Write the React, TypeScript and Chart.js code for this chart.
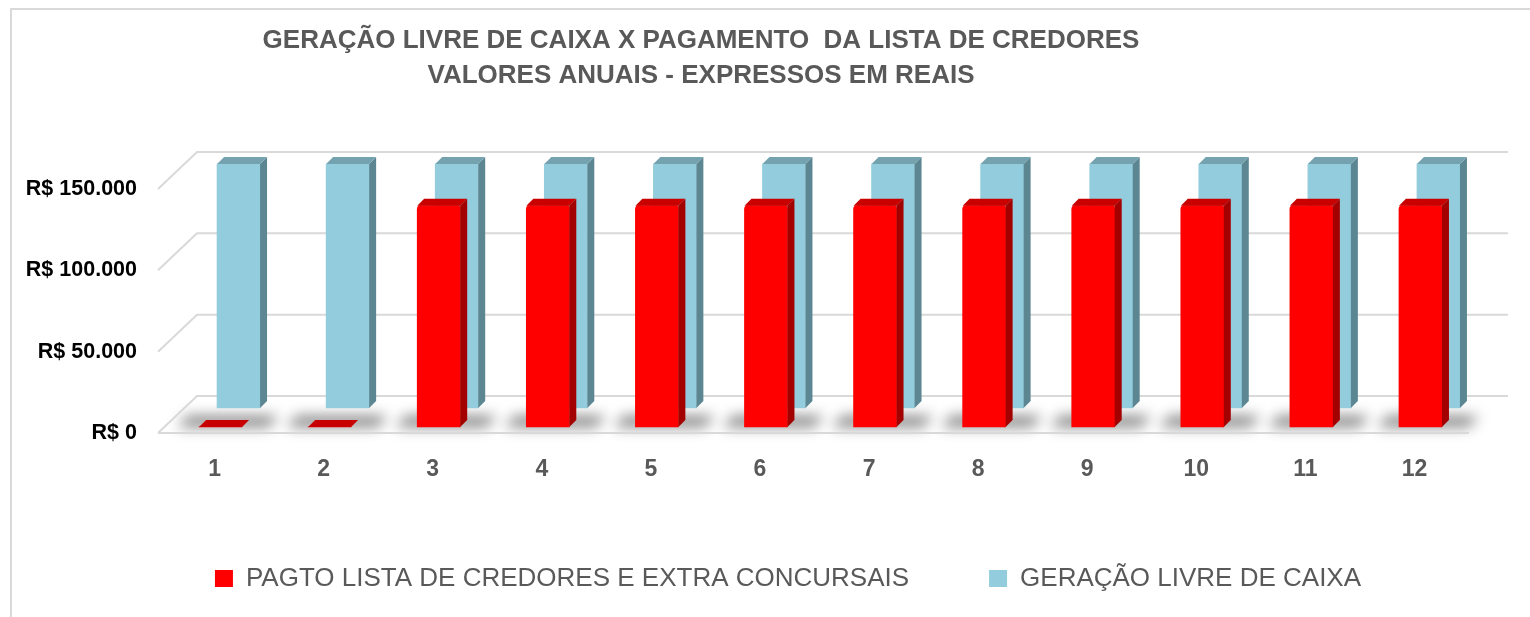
import React, { useEffect, useRef } from 'react';
import { Chart, registerables } from 'chart.js';

Chart.register(...registerables);

// ---------- data ----------
const CATEGORIES = ['1', '2', '3', '4', '5', '6', '7', '8', '9', '10', '11', '12'];
const PAGTO_CREDORES = [0, 0, 136000, 136000, 136000, 136000, 136000, 136000, 136000, 136000, 136000, 136000];
const GERACAO_CAIXA = [150000, 150000, 150000, 150000, 150000, 150000, 150000, 150000, 150000, 150000, 150000, 150000];
const Y_TICKS = [0, 50000, 100000, 150000];
const Y_MAX = 150000;
const TITLE_LINES = [
  'GERAÇÃO LIVRE DE CAIXA X PAGAMENTO  DA LISTA DE CREDORES',
  'VALORES ANUAIS - EXPRESSOS EM REAIS',
];
const SERIES_LABELS = ['PAGTO LISTA DE CREDORES E EXTRA CONCURSAIS', 'GERAÇÃO LIVRE DE CAIXA'];

// ---------- styles ----------
const FONT = "'Liberation Sans', Arial, sans-serif";
const TEXT_GRAY = '#595959';
const GRID_COLOR = '#D9D9D9';
const RED = { front: '#FF0000', side: '#A30000', top: '#C80000' };
const BLUE = { front: '#93CDDD', side: '#5C8792', top: '#74A3AF' };
const FACES = [RED, BLUE];
const WALL_DX = 39;
const WALL_DY = 37;
const BAR_DEPTH = 7;
const RED_SHIFT = 0.055; // in categories
const RED_LIFT = 0.025; // fraction of value range
const BLUE_SHIFT = 0.22;
const BLUE_LIFT = 0.1025;
const TITLE_CENTER_X = 701;
const LEGEND_CENTER_X = 788;
const LEGEND_TOP = 485.5;

const fmtBRL = (v: number) =>
  'R$ ' + Math.round(v).toString().replace(/\B(?=(\d{3})+(?!\d))/g, '.');

const threeD = {
  id: 'threeD',
  afterLayout(chart: any) {
    const t = chart.titleBlock;
    if (t) {
      const dx = TITLE_CENTER_X - (t.left + t.right) / 2;
      t.left += dx;
      t.right += dx;
    }
    const lg = chart.legend;
    if (lg) {
      const dx = LEGEND_CENTER_X - (lg.left + lg.right) / 2;
      lg.left += dx;
      lg.right += dx;
      const dy = LEGEND_TOP - lg.top;
      lg.top += dy;
      lg.bottom += dy;
    }
  },
  beforeDatasetsDraw(chart: any) {
    const { ctx, chartArea } = chart;
    const { left, right } = chartArea;
    const y = chart.scales.y;

    // floor shadows of the front series
    const meta = chart.getDatasetMeta(0);
    ctx.save();
    ctx.filter = 'blur(7px)';
    ctx.fillStyle = 'rgba(0,0,0,0.5)';
    meta.data.forEach((el: any) => {
      const { x, base, width } = el.getProps(['x', 'base', 'width'], true);
      const l = x - width / 2 - 22;
      const r = x + width / 2 + 26;
      ctx.beginPath();
      ctx.moveTo(l, base);
      ctx.lineTo(r, base);
      ctx.lineTo(r + 11, base - 11);
      ctx.lineTo(l + 11, base - 11);
      ctx.closePath();
      ctx.fill();
    });
    ctx.restore();

    // walls and floor
    ctx.save();
    ctx.strokeStyle = GRID_COLOR;
    ctx.lineWidth = 2;
    Y_TICKS.forEach((v) => {
      const py = y.getPixelForValue(v);
      ctx.beginPath();
      ctx.moveTo(left - 2, py);
      ctx.lineTo(left - 2 + WALL_DX, py - WALL_DY);
      ctx.lineTo(right + WALL_DX, py - WALL_DY);
      ctx.stroke();
    });
    const p0 = y.getPixelForValue(0);
    ctx.beginPath();
    ctx.moveTo(left - 2, p0);
    ctx.lineTo(right, p0);
    ctx.stroke();
    ctx.restore();
  },
  afterDatasetDraw(chart: any, args: any) {
    const faces = FACES[args.index];
    if (!faces) return;
    const ctx = chart.ctx;
    const d = BAR_DEPTH;
    ctx.save();
    args.meta.data.forEach((el: any) => {
      const { x, y, base, width } = el.getProps(['x', 'y', 'base', 'width'], true);
      const l = x - width / 2;
      const r = x + width / 2;
      const top = Math.min(y, base);
      ctx.fillStyle = faces.side;
      ctx.beginPath();
      ctx.moveTo(r, top);
      ctx.lineTo(r + d, top - d);
      ctx.lineTo(r + d, base - d);
      ctx.lineTo(r, base);
      ctx.closePath();
      ctx.fill();
      ctx.fillStyle = faces.top;
      ctx.beginPath();
      ctx.moveTo(l, top);
      ctx.lineTo(r, top);
      ctx.lineTo(r + d, top - d);
      ctx.lineTo(l + d, top - d);
      ctx.closePath();
      ctx.fill();
    });
    ctx.restore();
  },
};

export default function App() {
  const ref = useRef<HTMLCanvasElement>(null);

  useEffect(() => {
    if (!ref.current) return;
    const chart = new Chart(ref.current, {
      type: 'bar',
      data: {
        labels: CATEGORIES,
        datasets: [
          {
            label: SERIES_LABELS[0],
            data: PAGTO_CREDORES,
            xAxisID: 'xr',
            yAxisID: 'yr',
            grouped: false,
            backgroundColor: RED.front,
            borderWidth: 0,
            borderRadius: { topLeft: 4, topRight: 3, bottomLeft: 0, bottomRight: 0 },
            borderSkipped: 'bottom',
            barThickness: 43,
            clip: false,
          } as any,
          {
            label: SERIES_LABELS[1],
            data: GERACAO_CAIXA,
            xAxisID: 'xb',
            yAxisID: 'yb',
            grouped: false,
            backgroundColor: BLUE.front,
            borderWidth: 0,
            barThickness: 43,
            clip: false,
          } as any,
        ],
      },
      options: {
        responsive: false,
        animation: false,
        layout: { padding: { left: 0, right: 61, top: 0, bottom: 0 } },
        plugins: {
          title: {
            display: true,
            text: TITLE_LINES,
            color: TEXT_GRAY,
            font: { family: FONT, size: 26, weight: 'bold', lineHeight: 35 / 26 },
            padding: { top: 23.5, bottom: 95.5 },
          },
          legend: {
            display: true,
            position: 'bottom',
            maxHeight: 111.5,
            labels: {
              boxWidth: 18,
              boxHeight: 17,
              padding: 80,
              color: TEXT_GRAY,
              font: { family: FONT, size: 26 },
            },
          } as any,
          tooltip: { enabled: false },
        },
        scales: {
          x: {
            type: 'category',
            position: 'bottom',
            offset: true,
            grid: { display: false, drawTicks: false },
            border: { display: false },
            ticks: {
              color: TEXT_GRAY,
              padding: 19,
              maxRotation: 0,
              autoSkip: false,
              font: { family: FONT, size: 23, weight: 'bold', lineHeight: 1.5 },
            },
          },
          y: {
            type: 'linear',
            position: 'left',
            min: 0,
            max: Y_MAX,
            afterBuildTicks: (s: any) => {
              s.ticks = Y_TICKS.map((v) => ({ value: v }));
            },
            afterFit: (s: any) => {
              s.width = 160;
            },
            grid: { display: false, drawTicks: false },
            border: { display: false },
            ticks: {
              color: '#000000',
              padding: 23,
              font: { family: FONT, size: 21.5, weight: 'bold' },
              callback: (v: any) => fmtBRL(Number(v)),
            },
          },
          xr: {
            type: 'linear',
            axis: 'x',
            display: false,
            offset: false,
            min: 0.5 - RED_SHIFT,
            max: CATEGORIES.length + 0.5 - RED_SHIFT,
          },
          xb: {
            type: 'linear',
            axis: 'x',
            display: false,
            offset: false,
            min: 0.5 - BLUE_SHIFT,
            max: CATEGORIES.length + 0.5 - BLUE_SHIFT,
          },
          yr: {
            type: 'linear',
            axis: 'y',
            display: false,
            min: -RED_LIFT * Y_MAX,
            max: Y_MAX * (1 - RED_LIFT),
          },
          yb: {
            type: 'linear',
            axis: 'y',
            display: false,
            min: -BLUE_LIFT * Y_MAX,
            max: Y_MAX * (1 - BLUE_LIFT),
          },
        } as any,
      },
      plugins: [threeD as any],
    });
    return () => chart.destroy();
  }, []);

  return (
    <div style={{ position: 'fixed', left: 0, top: 0, width: 1530, height: 617, background: '#ffffff', overflow: 'hidden' }}>
      <div
        style={{
          position: 'absolute',
          left: 10,
          top: 8,
          width: 1700,
          height: 800,
          borderLeft: '2.5px solid #D9D9D9',
          borderTop: '2.5px solid #D9D9D9',
        }}
      />
      <canvas ref={ref} width={1530} height={617} style={{ position: 'absolute', left: 0, top: 0 }} />
    </div>
  );
}
